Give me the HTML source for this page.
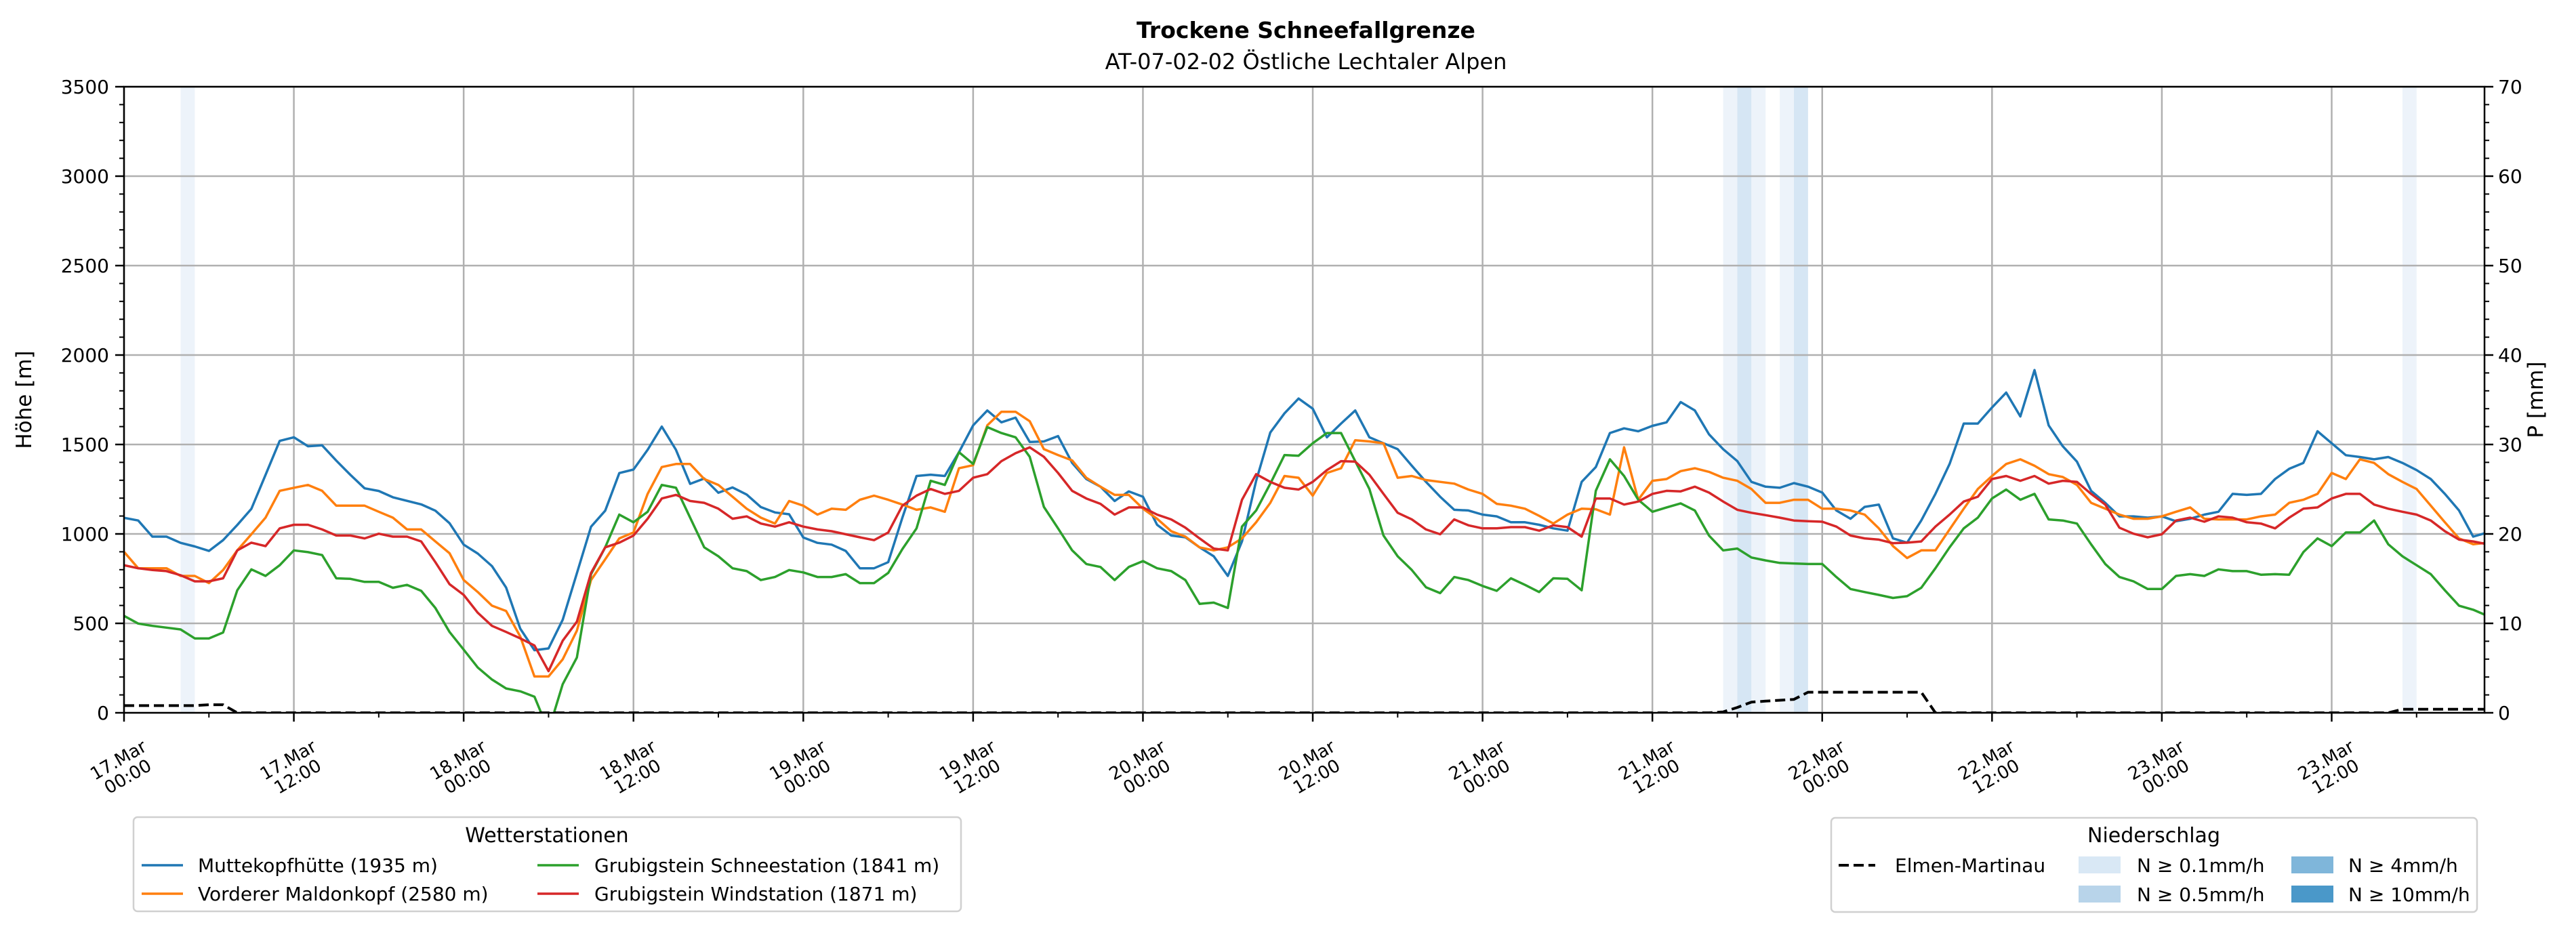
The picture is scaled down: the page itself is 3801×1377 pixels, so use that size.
<!DOCTYPE html>
<html><head><meta charset="utf-8"><style>
html,body{margin:0;padding:0;background:#fff;}
svg{display:block;font-family:"DejaVu Sans","Liberation Sans",sans-serif;}
</style></head><body>
<svg id="chart" width="3801" height="1377" viewBox="0 0 3801 1377" xmlns="http://www.w3.org/2000/svg">
<defs><clipPath id="plotclip"><rect x="183" y="128" width="3483" height="924"/></clipPath></defs>
<rect x="0" y="0" width="3801" height="1377" fill="#fff"/>
<text x="1927" y="56" text-anchor="middle" font-size="33" font-weight="bold">Trockene Schneefallgrenze</text>
<text x="1927" y="102" text-anchor="middle" font-size="32">AT-07-02-02 Östliche Lechtaler Alpen</text>
<g id="bands" clip-path="url(#plotclip)"></g>
<g id="grid"></g>
<g id="series" clip-path="url(#plotclip)"></g>
<g id="axes"></g>
<text transform="translate(46,590) rotate(-90)" text-anchor="middle" font-size="31">Höhe [m]</text>
<text transform="translate(3752,590) rotate(-90)" text-anchor="middle" font-size="31">P [mm]</text>

<g>
<rect x="197" y="1206" width="1221" height="139" rx="6" fill="#fff" stroke="#d0d0d0" stroke-width="2.5"/>
<text x="807" y="1243" text-anchor="middle" font-size="30">Wetterstationen</text>
<line x1="209" y1="1277" x2="270" y2="1277" stroke="#1f77b4" stroke-width="3.5"/>
<text x="292" y="1287" font-size="28">Muttekopfhütte (1935 m)</text>
<line x1="209" y1="1319" x2="270" y2="1319" stroke="#ff7f0e" stroke-width="3.5"/>
<text x="292" y="1329" font-size="28">Vorderer Maldonkopf (2580 m)</text>
<line x1="793" y1="1277" x2="854" y2="1277" stroke="#2ca02c" stroke-width="3.5"/>
<text x="877" y="1287" font-size="28">Grubigstein Schneestation (1841 m)</text>
<line x1="793" y1="1319" x2="854" y2="1319" stroke="#d62728" stroke-width="3.5"/>
<text x="877" y="1329" font-size="28">Grubigstein Windstation (1871 m)</text>
</g>

<g>
<rect x="2702" y="1207" width="953" height="139" rx="6" fill="#fff" stroke="#d0d0d0" stroke-width="2.5"/>
<text x="3178" y="1243" text-anchor="middle" font-size="30">Niederschlag</text>
<line x1="2713" y1="1277" x2="2767" y2="1277" stroke="#000" stroke-width="4" stroke-dasharray="15,7"/>
<text x="2796" y="1287" font-size="28">Elmen-Martinau</text>
<rect x="3067" y="1264" width="62" height="25" fill="#d9e8f5"/>
<text x="3153" y="1287" font-size="28">N ≥ 0.1mm/h</text>
<rect x="3067" y="1307" width="62" height="25" fill="#b8d4ea"/>
<text x="3153" y="1330" font-size="28">N ≥ 0.5mm/h</text>
<rect x="3381" y="1264" width="62" height="25" fill="#7fb6da"/>
<text x="3465" y="1287" font-size="28">N ≥ 4mm/h</text>
<rect x="3381" y="1307" width="62" height="25" fill="#4a98c9"/>
<text x="3465" y="1330" font-size="28">N ≥ 10mm/h</text>
</g>
</svg>
<script>
const muttekopf = [1090,1075,985,985,950,930,905,965,1050,1140,1330,1520,1540,1490,1495,1410,1330,1255,1240,1205,1185,1165,1130,1060,940,890,820,700,470,350,360,520,780,1040,1130,1340,1360,1470,1600,1470,1280,1310,1230,1260,1220,1150,1120,1110,980,950,940,905,
808,808,842,1091,1324,1331,1324,1457,1607,1690,1624,1650,1514,1517,1547,1397,1307,1264,1184,1238,1208,1051,991,981,925,875,765,958,1297,1567,1674,1757,1700,1540,1617,1690,1540,1507,1474,1381,1291,1208,1135,1131,1108,1098,1065,1065,1051,1031,1018,1291,1374,1564,1590,1574,1604,1624,1737,
1690,1557,1474,1407,1291,1264,1258,1284,1264,1231,1131,1085,1151,1164,975,951,1075,1224,1391,1617,1617,1707,1790,1657,1916,1607,1490,1404,1241,1174,1098,1098,1091,1098,1071,1085,1108,1124,1224,1218,1224,1307,1364,1397,1574,1507,1440,1430,1417,1430,1397,1357,1307,1224,1131,985,1008];
const maldonkopf = [900,808,808,808,765,765,725,798,908,998,1091,1241,1258,1274,1241,1158,1158,1158,1124,1091,1025,1025,958,892,742,675,599,569,426,203,203,299,459,742,858,975,1008,1224,1374,1391,1391,1307,1274,1208,1141,1091,1058,1184,1158,1108,1141,1135,
1191,1214,1191,1164,1135,1148,1124,1367,1384,1607,1683,1683,1630,1474,1441,1411,1314,1264,1218,1218,1141,1085,1015,985,925,908,925,975,1065,1174,1324,1314,1214,1341,1367,1524,1517,1507,1314,1324,1301,1291,1281,1248,1224,1168,1158,1141,1101,1058,1108,1141,1138,1108,1484,1191,1297,1307,1351,1367,1347,1314,
1297,1251,1174,1174,1191,1191,1141,1141,1131,1108,1031,932,865,908,908,1025,1141,1251,1324,1391,1417,1381,1334,1318,1274,1174,1141,1108,1085,1085,1098,1124,1148,1085,1081,1081,1081,1098,1108,1174,1191,1224,1341,1307,1417,1397,1334,1291,1251,1158,1065,975,942,951];
const schneestation = [542,499,486,476,466,416,416,449,685,802,765,825,908,898,882,752,749,732,732,699,715,682,586,452,353,253,186,136,120,90,-100,160,309,775,925,1108,1065,1124,1274,1258,1091,925,875,808,792,742,759,798,785,759,759,775,
725,725,782,915,1031,1297,1274,1457,1391,1597,1564,1540,1431,1151,1031,908,832,815,742,815,848,808,792,742,609,616,586,1041,1131,1281,1441,1437,1507,1564,1564,1407,1251,991,875,798,702,669,759,742,709,682,752,715,675,752,749,685,1241,1417,1324,1191,1124,1148,1171,
1131,991,908,918,868,852,838,835,832,832,759,692,675,659,642,652,699,808,925,1031,1091,1198,1248,1191,1224,1081,1075,1058,942,832,759,735,692,692,765,775,765,802,792,792,772,775,772,898,975,932,1008,1008,1075,942,875,825,775,685,599,576,542];
const windstation = [825,808,798,792,769,735,735,752,908,951,932,1031,1051,1051,1025,991,991,975,1001,985,985,958,842,719,659,559,486,452,416,376,233,403,509,782,925,951,991,1085,1198,1218,1184,1174,1141,1085,1098,1058,1041,1065,1041,1025,1015,998,
981,965,1008,1158,1214,1251,1224,1241,1314,1334,1407,1451,1484,1431,1341,1241,1198,1168,1108,1148,1148,1108,1081,1035,975,918,908,1191,1334,1291,1258,1248,1291,1357,1407,1404,1331,1224,1118,1081,1025,998,1081,1048,1031,1031,1038,1038,1018,1048,1038,985,1198,1198,1164,1181,1224,1241,1238,
1264,1231,1181,1135,1118,1105,1091,1075,1071,1068,1041,991,975,968,948,951,958,1041,1108,1181,1208,1307,1324,1297,1324,1281,1297,1291,1224,1164,1035,1001,981,998,1075,1091,1068,1098,1091,1065,1058,1031,1091,1141,1148,1198,1224,1224,1164,1141,1124,1108,1075,1015,968,958,942];
const precipElmen = [
0.8,0.8,0.8,0.8,0.8,0.8,0.9,0.9,
0,0,0,0,0,0,0,0,0,0,
0,0,0,0,0,0,0,0,0,0,
0,0,0,0,0,0,0,0,0,0,
0,0,0,0,0,0,0,0,0,0,
0,0,0,0,0,0,0,0,0,0,
0,0,0,0,0,0,0,0,0,0,
0,0,0,0,0,0,0,0,0,0,
0,0,0,0,0,0,0,0,0,0,
0,0,0,0,0,0,0,0,0,0,
0,0,0,0,0,0,0,0,0,0,
0,0,0,0,0,
0.1,0.6,1.2,1.3,1.4,1.5,
2.3,2.3,2.3,2.3,2.3,2.3,2.3,2.3,2.3,
0,0,0,0,0,0,0,0,0,0,
0,0,0,0,0,0,0,0,0,0,
0,0,0,0,0,0,0,0,0,0,
0,0,0,
0.4,0.4,0.4,0.4,0.4,0.4,0.4];
const bandHours = [4,113,114,115,117,118,161];
const bandLevels = [1,1,2,1,1,2,1];
const yTicks = [0,500,1000,1500,2000,2500,3000,3500];
const y2Ticks = [0,10,20,30,40,50,60,70];
const xTickHours = [0,12,24,36,48,60,72,84,96,108,120,132,144,156];
const xTickDates = ["17.Mar","17.Mar","18.Mar","18.Mar","19.Mar","19.Mar","20.Mar","20.Mar","21.Mar","21.Mar","22.Mar","22.Mar","23.Mar","23.Mar"];
const xTickTimes = ["00:00","12:00","00:00","12:00","00:00","12:00","00:00","12:00","00:00","12:00","00:00","12:00","00:00","12:00"];

const NS="http://www.w3.org/2000/svg";
const L=183,R=3666,T=128,B=1052, XMAX=166.8, YMAX=3500, Y2MAX=70;
const xs=h=>L+h/XMAX*(R-L);
const ys=v=>B-v/YMAX*(B-T);
const y2s=v=>B-v/Y2MAX*(B-T);
function mk(tag,attrs,parent){const e=document.createElementNS(NS,tag);for(const k in attrs)e.setAttribute(k,attrs[k]);parent.appendChild(e);return e;}
const bands=document.getElementById('bands'),grid=document.getElementById('grid'),series=document.getElementById('series'),axes=document.getElementById('axes');

const bandColors={1:"#edf3fa",2:"#d6e6f4",3:"#7fb6da",4:"#4a98c9"};
bandHours.forEach((h,i)=>{
  const r=mk('rect',{x:xs(h),y:T,width:xs(h+1)-xs(h),height:B-T,fill:bandColors[bandLevels[i]]},bands);
  
  
});
yTicks.forEach(v=>{const l=mk('line',{x1:L,x2:R,y1:ys(v),y2:ys(v),stroke:"#b0b0b0","stroke-width":2.5},grid);
  
  });
xTickHours.forEach(h=>{const l=mk('line',{x1:xs(h),x2:xs(h),y1:T,y2:B,stroke:"#b0b0b0","stroke-width":2.5},grid);
  
  });

function drawLine(arr,color,name,scale,dash){
  const pts=arr.map((v,i)=>xs(i).toFixed(1)+","+scale(v).toFixed(1)).join(" ");
  const p=mk('polyline',{points:pts,fill:"none",stroke:color,"stroke-width":dash?4:3.5,"stroke-linejoin":"round"},series);
  if(dash)p.setAttribute('stroke-dasharray',dash);
  
  
}
drawLine(muttekopf,"#1f77b4","line-muttekopf",ys);
drawLine(maldonkopf,"#ff7f0e","line-maldonkopf",ys);
drawLine(schneestation,"#2ca02c","line-schneestation",ys);
drawLine(windstation,"#d62728","line-windstation",ys);
drawLine(precipElmen,"#000","line-precip-elmen",y2s,"15,7");

const fr=mk('rect',{x:L,y:T,width:R-L,height:B-T,fill:"none",stroke:"#000","stroke-width":2.5},axes);


for(let v=0;v<=YMAX;v+=100){const maj=v%500===0;mk('line',{x1:L,x2:L-(maj?13:7),y1:ys(v),y2:ys(v),stroke:"#000","stroke-width":maj?2.5:2},axes);}
yTicks.forEach(v=>{const t=mk('text',{x:L-22,y:ys(v)+10,"text-anchor":"end","font-size":28},axes);t.textContent=v;
  
  });
for(let v=0;v<=Y2MAX;v+=2){const maj=v%10===0;mk('line',{x1:R,x2:R+(maj?13:7),y1:y2s(v),y2:y2s(v),stroke:"#000","stroke-width":maj?2.5:2},axes);}
y2Ticks.forEach(v=>{const t=mk('text',{x:R+20,y:y2s(v)+10,"text-anchor":"start","font-size":28},axes);t.textContent=v;
  
  });
for(let h=0;h<=XMAX;h+=6){const maj=h%12===0;mk('line',{x1:xs(h),x2:xs(h),y1:B,y2:B+(maj?13:7),stroke:"#000","stroke-width":maj?2.5:2},axes);}
xTickHours.forEach((h,i)=>{
  const t=mk('text',{transform:`translate(${xs(h)-2},1133) rotate(-30)`,"text-anchor":"middle","font-size":26},axes);
  
  
  const a=mk('tspan',{x:0,y:-4},t);a.textContent=xTickDates[i];
  const b=mk('tspan',{x:0,y:24},t);b.textContent=xTickTimes[i];
});
</script>
</body></html>
